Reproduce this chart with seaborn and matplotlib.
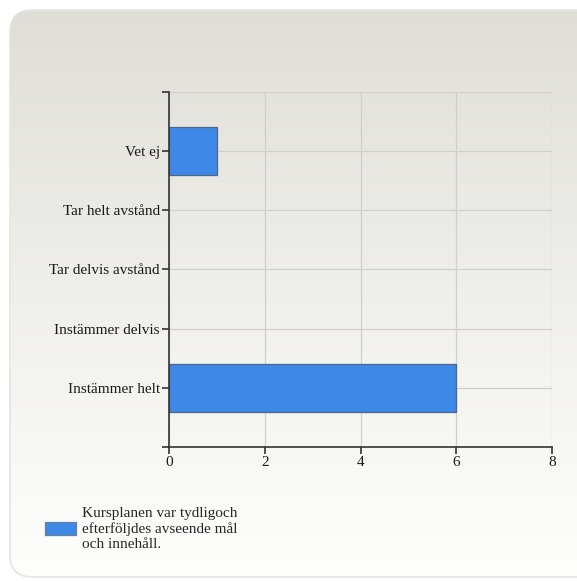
import matplotlib
matplotlib.use("Agg")
import matplotlib.pyplot as plt
import numpy as np
import pandas as pd
import seaborn as sns
from matplotlib.patches import FancyBboxPatch, Patch

# data
categories = ["Vet ej", "Tar helt avstånd", "Tar delvis avstånd",
              "Instämmer delvis", "Instämmer helt"]
counts = [1, 0, 0, 0, 6]
series_name = "Kursplanen var tydligoch\nefterföljdes avseende mål\noch innehåll."
x_ticks = [0, 2, 4, 6, 8]

df = pd.DataFrame({"svar": categories, "antal": counts})

sns.set_theme(style="white")
plt.rcParams["font.family"] = ["Liberation Serif", "DejaVu Serif"]

W, H = 577, 581
fig = plt.figure(figsize=(W / 100, H / 100), dpi=100)
fig.patch.set_facecolor("white")

# rounded gradient panel behind everything
bg = fig.add_axes([0, 0, 1, 1], zorder=-10)
bg.set_xlim(0, W)
bg.set_ylim(H, 0)
bg.axis("off")
grad = np.linspace(0, 1, 256).reshape(-1, 1)
top = np.array([0xde, 0xdd, 0xd6]) / 255
bot = np.array([0xfe, 0xfe, 0xfd]) / 255
img = top + (bot - top) * grad[..., None] ** 0.9
panel = FancyBboxPatch((10, 10), W + 20, 567, boxstyle="round,pad=0,rounding_size=22",
                       facecolor="none", edgecolor="#e4e4e0", linewidth=1.2)
bg.add_patch(panel)
im = bg.imshow(img, extent=[10, W + 30, 577, 10], aspect="auto")
im.set_clip_path(panel)

ax = fig.add_axes([169 / W, 1 - 447 / H, (552 - 169) / W, (447 - 92) / H])
ax.set_facecolor("none")
sns.barplot(data=df, x="antal", y="svar", order=categories, ax=ax,
            color="#3e88e8", edgecolor="#4f6587", linewidth=0.9,
            saturation=1, width=0.8, zorder=3)
# hide outlines of empty bars
for p in ax.patches:
    if p.get_width() == 0:
        p.set_linewidth(0)

ax.set_xlim(0, 8)
ax.set_ylim(len(categories), -1)
ax.set_xticks(x_ticks)
ax.set_xlabel("")
ax.set_ylabel("")
ax.set_yticks([-1] + list(range(len(categories))) + [len(categories)])
ax.set_yticklabels([""] + categories + [""])
ax.grid(True, color="#cfcfcb", linewidth=0.9, zorder=0)
for s in ["top", "right"]:
    ax.spines[s].set_visible(False)
for s in ["left", "bottom"]:
    ax.spines[s].set_color("#333333")
    ax.spines[s].set_linewidth(1.2)
    ax.spines[s].set_zorder(4)
ax.tick_params(axis="both", which="major", direction="out", length=5,
               width=1.2, color="#333333", labelsize=11, labelcolor="#1a1a1a",
               pad=1.5, left=True, bottom=True)
ax.xaxis.grid(True)
ax.yaxis.grid(True)

handle = Patch(facecolor="#3e88e8", edgecolor="#6a7f9a", linewidth=0.9)
fig.legend([handle], [series_name], loc="center left",
           bbox_to_anchor=(45 / W, 1 - 529 / H), frameon=False,
           fontsize=11, handlelength=2.0, handleheight=0.95,
           handletextpad=0.45, borderpad=0, borderaxespad=0,
           labelspacing=0.2)

fig.savefig("out.png", dpi=100)
